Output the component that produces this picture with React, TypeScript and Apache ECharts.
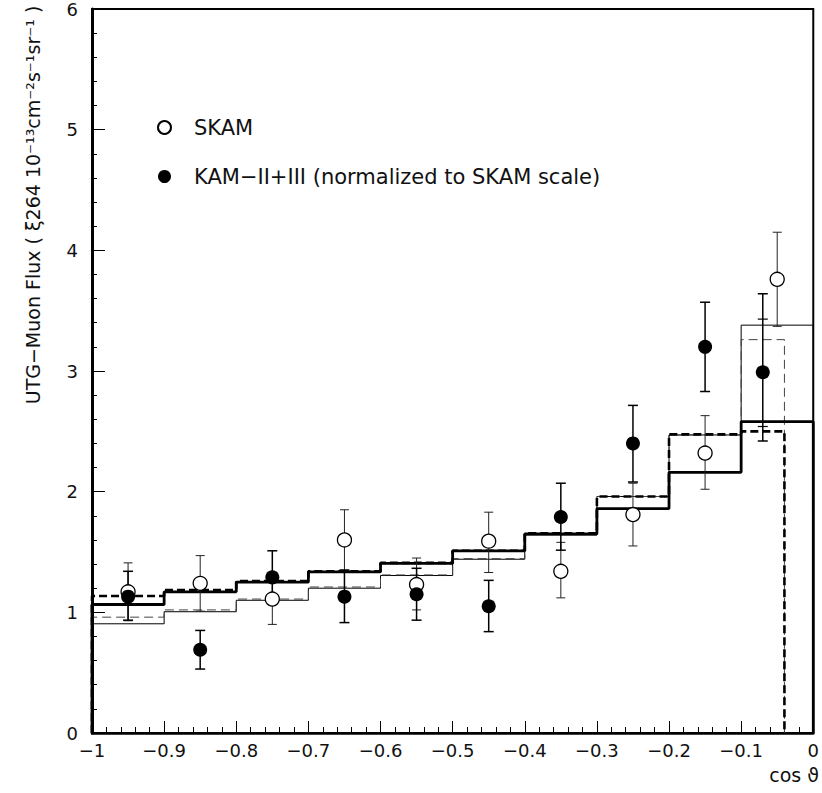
import React, { useEffect, useRef } from "react";
import * as echarts from "echarts";

// Bin edges (cos theta)
const binEdges = [-1, -0.9, -0.8, -0.7, -0.6, -0.5, -0.4, -0.3, -0.2, -0.1, 0];
const dashedEdges = [-1, -0.9, -0.8, -0.7, -0.6, -0.5, -0.4, -0.3, -0.2, -0.1, -0.04];

// Histograms
const thickSolid = [1.065, 1.17, 1.25, 1.335, 1.405, 1.51, 1.65, 1.86, 2.16, 2.58];
const thickDashed = [1.135, 1.185, 1.26, 1.34, 1.41, 1.51, 1.655, 1.96, 2.475, 2.5];
const thinSolid = [0.905, 1.005, 1.1, 1.2, 1.305, 1.44, 1.64, 1.96, 2.47, 3.38];
const thinDashed = [0.96, 1.02, 1.11, 1.21, 1.31, 1.445, 1.65, 1.96, 2.47, 3.26];

// SKAM (open circles)
const skamX = [-0.95, -0.85, -0.75, -0.65, -0.55, -0.45, -0.35, -0.25, -0.15, -0.05];
const skamY = [1.17, 1.24, 1.11, 1.6, 1.23, 1.59, 1.34, 1.81, 2.32, 3.76];
const skamLo = [0.93, 1.01, 0.9, 1.35, 1.02, 1.33, 1.12, 1.55, 2.02, 3.37];
const skamHi = [1.41, 1.47, 1.33, 1.85, 1.45, 1.83, 1.58, 2.07, 2.63, 4.15];

// KAM-II+III (filled circles)
const kamX = [-0.95, -0.85, -0.75, -0.65, -0.55, -0.45, -0.35, -0.25, -0.15, -0.07];
const kamY = [1.13, 0.69, 1.29, 1.13, 1.15, 1.05, 1.79, 2.4, 3.2, 2.99];
const kamLo = [0.935, 0.53, 1.07, 0.915, 0.935, 0.84, 1.515, 2.08, 2.83, 2.42];
const kamHi = [1.34, 0.85, 1.51, 1.35, 1.365, 1.265, 2.07, 2.715, 3.57, 3.64];
// inner error caps (last point)
const kamInnerX = [-0.07];
const kamInnerLo = [2.54];
const kamInnerHi = [3.43];

const xTicks = [-1, -0.9, -0.8, -0.7, -0.6, -0.5, -0.4, -0.3, -0.2, -0.1, 0];
const yTicks = [0, 1, 2, 3, 4, 5, 6];

const FONT = "'DejaVu Sans', 'Liberation Sans', sans-serif";

function histPoints(edges: number[], vals: number[]) {
  const pts: number[][] = [[edges[0], 0]];
  for (let i = 0; i < vals.length; i++) {
    pts.push([edges[i], vals[i]]);
    pts.push([edges[i + 1], vals[i]]);
  }
  pts.push([edges[edges.length - 1], 0]);
  return pts;
}

function errSeries(xs: number[], lo: number[], hi: number[], width: number, color: string, capHalf: number, drawLine: boolean) {
  return {
    type: "custom",
    silent: true,
    z: 3,
    data: xs.map((x, i) => [x, lo[i], hi[i]]),
    renderItem: (params: any, api: any) => {
      const x = api.value(0);
      const pLo = api.coord([x, api.value(1)]);
      const pHi = api.coord([x, api.value(2)]);
      const style = { stroke: color, lineWidth: width };
      const children: any[] = [];
      if (drawLine) {
        children.push({ type: "line", shape: { x1: pLo[0], y1: pLo[1], x2: pHi[0], y2: pHi[1] }, style });
      }
      children.push({ type: "line", shape: { x1: pLo[0] - capHalf, y1: pLo[1], x2: pLo[0] + capHalf, y2: pLo[1] }, style });
      children.push({ type: "line", shape: { x1: pHi[0] - capHalf, y1: pHi[1], x2: pHi[0] + capHalf, y2: pHi[1] }, style });
      return { type: "group", children };
    },
  };
}

export default function App() {
  const ref = useRef<HTMLDivElement>(null);
  useEffect(() => {
    document.body.style.margin = "0";
    const chart = echarts.init(ref.current!, null, { renderer: "svg" });
    const fmtX = (v: number) => {
      const r = Math.round(v * 10) / 10;
      if (r === 0) return "0";
      return "\u2212" + String(Math.abs(r));
    };
    chart.setOption({
      animation: false,
      backgroundColor: "#fff",
      grid: { left: 92, right: 5, top: 8, bottom: 60, show: true, borderColor: "#000", borderWidth: 2 },
      legend: {
        left: 152,
        top: 112,
        orient: "vertical",
        itemWidth: 13,
        itemHeight: 13,
        itemGap: 28,
        icon: "circle",
        textStyle: { fontFamily: FONT, fontSize: 21, color: "#111", padding: [0, 0, 0, 18] },
        data: ["SKAM", "KAM\u2212II+III (normalized to SKAM scale)"],
      },
      xAxis: {
        type: "value",
        min: xTicks[0],
        max: xTicks[xTicks.length - 1],
        interval: 0.1,
        axisLine: { show: true, onZero: false, lineStyle: { color: "#000", width: 2.5 } },
        axisTick: { show: true, inside: true, length: 12, lineStyle: { color: "#000", width: 1 } },
        minorTick: { show: true, splitNumber: 5, length: 6, lineStyle: { color: "#000", width: 1 } },
        splitLine: { show: false },
        axisLabel: { formatter: fmtX, fontFamily: FONT, fontSize: 18, color: "#111", margin: 8 },
      },
      yAxis: {
        type: "value",
        min: yTicks[0],
        max: yTicks[yTicks.length - 1],
        interval: 1,
        axisLine: { show: true, onZero: false, lineStyle: { color: "#000", width: 3 } },
        axisTick: { show: true, inside: true, length: 13, lineStyle: { color: "#000", width: 1 } },
        minorTick: { show: true, splitNumber: 5, length: 5, lineStyle: { color: "#000", width: 1 } },
        splitLine: { show: false },
        axisLabel: { fontFamily: FONT, fontSize: 18, lineHeight: 14, color: "#111", margin: 14 },
      },
      graphic: [
        {
          type: "text",
          x: 33,
          y: 205,
          rotation: Math.PI / 2,
          style: {
            text: "UTG\u2212Muon Flux ( \u03BE264 10\u207B\u00B9\u00B3cm\u207B\u00B2s\u207B\u00B9sr\u207B\u00B9 )",
            font: `19px ${FONT}`,
            textAlign: "center",
            textVerticalAlign: "middle",
            fill: "#111",
          },
        },
        {
          type: "text",
          right: 3,
          top: 765,
          style: { text: "cos \u03D1", font: `19px ${FONT}`, fill: "#111" },
        },
      ],
      series: [
        {
          type: "line",
          name: "thinSolid",
          data: histPoints(binEdges, thinSolid),
          symbol: "none",
          z: 1,
          lineStyle: { color: "#000", width: 1 },
        },
        {
          type: "line",
          name: "thinDashed",
          data: histPoints(dashedEdges, thinDashed),
          symbol: "none",
          z: 1,
          lineStyle: { color: "#444", width: 1, type: [9, 5] },
        },
        {
          type: "line",
          name: "thickSolid",
          data: histPoints(binEdges, thickSolid),
          symbol: "none",
          z: 2,
          lineStyle: { color: "#000", width: 2.8 },
        },
        {
          type: "line",
          name: "thickDashed",
          data: histPoints(dashedEdges, thickDashed),
          symbol: "none",
          z: 2,
          lineStyle: { color: "#000", width: 2.6, type: [8, 4] },
        },
        errSeries(skamX, skamLo, skamHi, 1, "#222", 4.5, true),
        errSeries(kamX, kamLo, kamHi, 1.5, "#000", 5, true),
        errSeries(kamInnerX, kamInnerLo, kamInnerHi, 1.2, "#000", 5, false),
        {
          type: "scatter",
          name: "SKAM",
          data: skamX.map((x, i) => [x, skamY[i]]),
          symbol: "circle",
          symbolSize: 14,
          z: 5,
          itemStyle: { color: "#fff", borderColor: "#000", borderWidth: 1.3, opacity: 1 },
        },
        {
          type: "scatter",
          name: "KAM\u2212II+III (normalized to SKAM scale)",
          data: kamX.map((x, i) => [x, kamY[i]]),
          symbol: "circle",
          symbolSize: 14,
          z: 5,
          itemStyle: { color: "#000", borderColor: "#000", borderWidth: 0, opacity: 1 },
        },
      ],
    });
    return () => chart.dispose();
  }, []);
  return <div ref={ref} style={{ width: 822, height: 793 }} />;
}
